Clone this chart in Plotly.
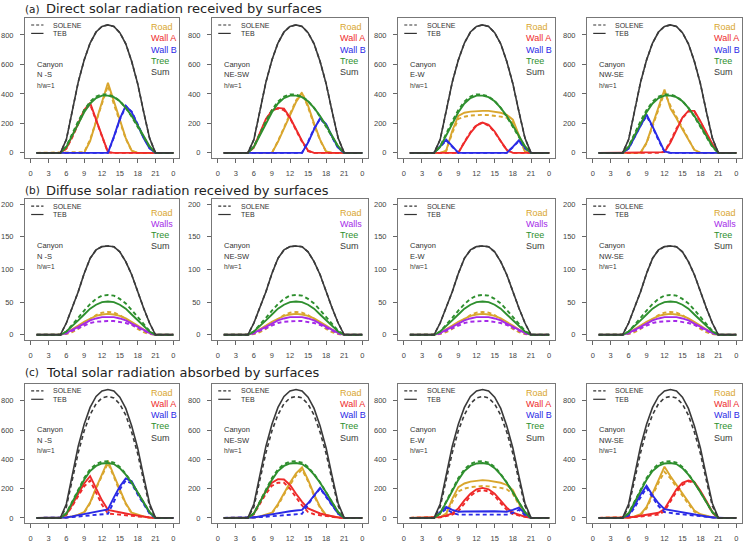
import plotly.graph_objects as go

HOURS = list(range(1, 25))
XTICKS = [0, 3, 6, 9, 12, 15, 18, 21, 24]
XTICKTEXT = ["0", "3", "6", "9", "12", "15", "18", "21", "0"]
YTICKS_A = [0, 200, 400, 600, 800]
YTICKS_B = [0, 50, 100, 150, 200]
ORIENT = ["N -S", "NE-SW", "E-W", "NW-SE"]

# ---------------- (a) Direct ----------------
A_SUM = [0,0,0,0,0,90,290,480,630,745,820,858,868,858,815,740,620,470,280,100,0,0,0,0]
A_TREE_TEB = [0,0,0,0,0,40,120,200,275,335,372,388,388,378,350,305,250,185,115,45,0,0,0,0]
A_TREE_SOL = [0,0,0,0,0,45,132,215,290,348,382,397,395,382,352,305,245,178,108,40,0,0,0,0]

A1_ROAD_TEB = [0,0,0,0,0,0,0,0,0,80,205,345,475,345,215,100,15,0,0,0,0,0,0,0]
A1_ROAD_SOL = [0,0,0,0,0,0,0,0,5,90,215,340,455,330,205,95,12,0,0,0,0,0,0,0]
A1_WALLA_TEB = [0,0,0,0,0,30,110,200,290,340,225,110,5,0,0,0,0,0,0,0,0,0,0,0]
A1_WALLA_SOL = [0,0,0,0,0,28,105,195,285,330,220,105,3,0,0,0,0,0,0,0,0,0,0,0]
A1_WALLB_TEB = [0,0,0,0,0,0,0,0,0,0,0,0,0,110,230,320,275,190,100,30,0,0,0,0]
A1_WALLB_SOL = [0,0,0,0,0,0,0,0,0,0,0,0,0,105,225,315,280,195,105,32,0,0,0,0]

A2_ROAD_TEB = [0,0,0,0,0,0,0,0,0,75,165,260,345,405,320,200,90,10,0,0,0,0,0,0]
A2_ROAD_SOL = [0,0,0,0,0,0,0,0,0,80,175,270,355,410,310,190,85,8,0,0,0,0,0,0]
A2_WALLA_TEB = [0,0,0,0,0,40,140,230,285,305,300,240,160,80,15,0,0,0,0,0,0,0,0,0]
A2_WALLA_SOL = [0,0,0,0,0,35,135,225,290,300,290,235,155,75,12,0,0,0,0,0,0,0,0,0]
A2_WALLB_TEB = [0,0,0,0,0,0,0,0,0,0,0,0,0,0,70,160,235,195,110,35,0,0,0,0]
A2_WALLB_SOL = [0,0,0,0,0,0,0,0,0,0,0,0,0,0,75,165,230,190,105,32,0,0,0,0]

A3_ROAD_TEB = [0,0,0,0,0,0,15,150,250,272,280,285,285,285,280,272,258,225,120,10,0,0,0,0]
A3_ROAD_SOL = [0,0,0,0,0,0,12,135,230,245,253,257,258,256,252,246,238,205,110,8,0,0,0,0]
A3_WALLA_TEB = [0,0,0,0,0,0,0,0,0,70,135,185,205,190,145,80,20,0,0,0,0,0,0,0]
A3_WALLA_SOL = [0,0,0,0,0,0,0,0,0,75,140,190,205,185,140,78,18,0,0,0,0,0,0,0]
A3_WALLB_TEB = [0,0,0,0,0,45,90,45,0,0,0,0,0,0,0,0,0,40,85,35,0,0,0,0]
A3_WALLB_SOL = [0,0,0,0,0,40,85,40,0,0,0,0,0,0,0,0,0,38,80,30,0,0,0,0]

A4_ROAD_TEB = [0,0,0,0,0,0,0,0,70,195,315,430,300,235,160,90,20,0,0,0,0,0,0,0]
A4_ROAD_SOL = [0,0,0,0,0,0,0,0,65,185,305,410,320,245,165,88,18,0,0,0,0,0,0,0]
A4_WALLA_TEB = [0,0,0,0,0,0,0,0,0,0,0,5,70,160,240,285,285,215,140,60,0,0,0,0]
A4_WALLA_SOL = [0,0,0,0,0,0,0,0,0,0,0,8,80,165,235,280,280,210,135,55,0,0,0,0]
A4_WALLB_TEB = [0,0,0,0,0,30,110,190,260,180,90,10,0,0,0,0,0,0,0,0,0,0,0,0]
A4_WALLB_SOL = [0,0,0,0,0,28,105,185,250,175,85,8,0,0,0,0,0,0,0,0,0,0,0,0]

# ---------------- (b) Diffuse ----------------
B_SUM = [0,0,0,0,0,18,41,66,94,117,130,135,136,135,127,112,92,66,41,18,0,0,0,0]
B_TREE_TEB = [0,0,0,0,0,5,13,22,31,40,46,50,51,50,46,40,31,22,13,5,0,0,0,0]
B_TREE_SOL = [0,0,0,0,0,5,15,26,37,47,55,60,61,60,55,48,38,27,16,6,0,0,0,0]
B_ROAD_TEB = [0,0,0,0,0,3,8,14,20,25,29,31,32,31,29,25,20,14,8,3,0,0,0,0]
B_ROAD_SOL = [0,0,0,0,0,1,4,9,16,24,30,34,35,34,30,24,16,9,4,1,0,0,0,0]
B_WALLS_TEB = [0,0,0,0,0,3,7,12,17,22,25,27,27,27,25,22,17,12,7,3,0,0,0,0]
B_WALLS_SOL = [0,0,0,0,0,2,6,11,15,18,20,21,21,21,20,18,15,11,6,2,0,0,0,0]

# ---------------- (c) Total absorbed ----------------
C_SUM_TEB = [0,0,0,0,0,95,300,490,640,755,830,868,877,868,825,748,628,478,285,100,0,0,0,0]
C_SUM_SOL = [0,0,0,0,0,75,265,445,595,705,780,820,830,820,778,702,585,440,255,82,0,0,0,0]
C_TREE_TEB = [0,0,0,0,0,30,105,185,260,320,355,372,375,368,340,295,240,175,105,40,0,0,0,0]
C_TREE_SOL = [0,0,0,0,0,32,110,195,272,332,368,385,387,378,348,300,242,175,103,38,0,0,0,0]

C1_ROAD_TEB = [0,0,0,0,0,3,10,22,40,105,205,300,390,290,190,100,35,20,10,3,0,0,0,0]
C1_ROAD_SOL = [0,0,0,0,0,2,8,18,35,100,200,290,375,280,180,95,30,15,7,2,0,0,0,0]
C1_WALLA_TEB = [0,0,0,0,0,25,90,165,235,285,200,120,55,45,38,30,22,15,8,3,0,0,0,0]
C1_WALLA_SOL = [0,0,0,0,0,20,80,150,215,255,170,90,30,25,22,18,14,10,6,2,0,0,0,0]
C1_WALLB_TEB = [0,0,0,0,0,3,10,18,26,34,42,50,58,140,215,270,250,170,100,35,0,0,0,0]
C1_WALLB_SOL = [0,0,0,0,0,2,6,10,14,18,22,25,28,110,195,255,235,160,95,30,0,0,0,0]

C2_ROAD_TEB = [0,0,0,0,0,3,10,20,35,95,170,240,305,345,260,160,75,20,10,3,0,0,0,0]
C2_ROAD_SOL = [0,0,0,0,0,2,8,16,30,85,160,230,290,330,250,150,68,16,7,2,0,0,0,0]
C2_WALLA_TEB = [0,0,0,0,0,30,110,185,240,265,262,225,165,110,65,45,30,20,10,3,0,0,0,0]
C2_WALLA_SOL = [0,0,0,0,0,25,95,165,220,240,240,200,140,85,40,25,18,12,6,2,0,0,0,0]
C2_WALLB_TEB = [0,0,0,0,0,3,10,18,25,32,39,45,50,55,100,155,205,150,90,30,0,0,0,0]
C2_WALLB_SOL = [0,0,0,0,0,2,5,8,11,14,17,20,23,28,90,150,200,145,85,28,0,0,0,0]

C3_ROAD_TEB = [0,0,0,0,0,5,30,130,210,235,248,255,258,255,250,240,225,190,100,20,0,0,0,0]
C3_ROAD_SOL = [0,0,0,0,0,4,25,110,180,200,210,215,218,215,212,205,195,165,90,15,0,0,0,0]
C3_WALLA_TEB = [0,0,0,0,0,5,15,30,65,120,165,195,205,195,165,120,70,35,20,8,0,0,0,0]
C3_WALLA_SOL = [0,0,0,0,0,4,12,22,45,100,150,180,190,180,150,100,55,25,15,6,0,0,0,0]
C3_WALLB_TEB = [0,0,0,0,0,40,75,55,42,44,45,46,46,46,45,44,42,55,70,30,0,0,0,0]
C3_WALLB_SOL = [0,0,0,0,0,30,60,35,22,22,22,23,23,23,22,22,22,35,55,20,0,0,0,0]

C4_ROAD_TEB = [0,0,0,0,0,3,10,25,75,170,260,350,285,225,165,105,50,25,12,4,0,0,0,0]
C4_ROAD_SOL = [0,0,0,0,0,2,8,20,65,155,240,315,270,210,150,95,42,20,9,3,0,0,0,0]
C4_WALLA_TEB = [0,0,0,0,0,3,8,14,20,26,35,60,130,195,240,255,245,185,115,40,0,0,0,0]
C4_WALLA_SOL = [0,0,0,0,0,2,5,9,13,17,22,45,115,180,225,250,240,180,110,35,0,0,0,0]
C4_WALLB_TEB = [0,0,0,0,0,20,85,160,220,155,100,60,52,45,38,30,23,16,9,3,0,0,0,0]
C4_WALLB_SOL = [0,0,0,0,0,15,70,140,205,140,80,40,32,28,24,20,16,12,7,2,0,0,0,0]

# ---------------- styles ----------------
ROAD_C = "#D9A62E"
WALLA_C = "#EE2A2A"
WALLB_C = "#2A2AE6"
TREE_C = "#2E8F2E"
SUM_C = "#3A3A3A"
WALLS_C = "#A52AE8"
DASH = "4px,3px"

W, H = 747, 542
COL_X = [(25, 179), (212, 368), (398, 555), (587, 742)]
ROW_Y = [(18, 158), (199, 340), (384, 523)]
FONT = "Liberation Sans"

# series per panel: (teb, sol, color)
PANELS = [
    [  # row a
        [(A1_ROAD_TEB, A1_ROAD_SOL, ROAD_C), (A1_WALLA_TEB, A1_WALLA_SOL, WALLA_C), (A1_WALLB_TEB, A1_WALLB_SOL, WALLB_C), (A_TREE_TEB, A_TREE_SOL, TREE_C), (A_SUM, A_SUM, SUM_C)],
        [(A2_ROAD_TEB, A2_ROAD_SOL, ROAD_C), (A2_WALLA_TEB, A2_WALLA_SOL, WALLA_C), (A2_WALLB_TEB, A2_WALLB_SOL, WALLB_C), (A_TREE_TEB, A_TREE_SOL, TREE_C), (A_SUM, A_SUM, SUM_C)],
        [(A3_ROAD_TEB, A3_ROAD_SOL, ROAD_C), (A3_WALLA_TEB, A3_WALLA_SOL, WALLA_C), (A3_WALLB_TEB, A3_WALLB_SOL, WALLB_C), (A_TREE_TEB, A_TREE_SOL, TREE_C), (A_SUM, A_SUM, SUM_C)],
        [(A4_ROAD_TEB, A4_ROAD_SOL, ROAD_C), (A4_WALLA_TEB, A4_WALLA_SOL, WALLA_C), (A4_WALLB_TEB, A4_WALLB_SOL, WALLB_C), (A_TREE_TEB, A_TREE_SOL, TREE_C), (A_SUM, A_SUM, SUM_C)],
    ],
    [  # row b
        [(B_ROAD_TEB, B_ROAD_SOL, ROAD_C), (B_WALLS_TEB, B_WALLS_SOL, WALLS_C), (B_TREE_TEB, B_TREE_SOL, TREE_C), (B_SUM, B_SUM, SUM_C)]
    ] * 4,
    [  # row c
        [(C1_ROAD_TEB, C1_ROAD_SOL, ROAD_C), (C1_WALLA_TEB, C1_WALLA_SOL, WALLA_C), (C1_WALLB_TEB, C1_WALLB_SOL, WALLB_C), (C_TREE_TEB, C_TREE_SOL, TREE_C), (C_SUM_TEB, C_SUM_SOL, SUM_C)],
        [(C2_ROAD_TEB, C2_ROAD_SOL, ROAD_C), (C2_WALLA_TEB, C2_WALLA_SOL, WALLA_C), (C2_WALLB_TEB, C2_WALLB_SOL, WALLB_C), (C_TREE_TEB, C_TREE_SOL, TREE_C), (C_SUM_TEB, C_SUM_SOL, SUM_C)],
        [(C3_ROAD_TEB, C3_ROAD_SOL, ROAD_C), (C3_WALLA_TEB, C3_WALLA_SOL, WALLA_C), (C3_WALLB_TEB, C3_WALLB_SOL, WALLB_C), (C_TREE_TEB, C_TREE_SOL, TREE_C), (C_SUM_TEB, C_SUM_SOL, SUM_C)],
        [(C4_ROAD_TEB, C4_ROAD_SOL, ROAD_C), (C4_WALLA_TEB, C4_WALLA_SOL, WALLA_C), (C4_WALLB_TEB, C4_WALLB_SOL, WALLB_C), (C_TREE_TEB, C_TREE_SOL, TREE_C), (C_SUM_TEB, C_SUM_SOL, SUM_C)],
    ],
]

LABELS_5 = [("Road", ROAD_C), ("Wall A", WALLA_C), ("Wall B", WALLB_C), ("Tree", TREE_C), ("Sum", SUM_C)]
LABELS_B = [("Road", ROAD_C), ("Walls", WALLS_C), ("Tree", TREE_C), ("Sum", SUM_C)]
ROW_TITLES = [("(a)", "Direct solar radiation received by surfaces", 9),
              ("(b)", "Diffuse solar radiation received by surfaces", 190),
              ("(c)", "Total solar radiation absorbed by surfaces", 372)]

fig = go.Figure()
layout = dict(width=W, height=H, margin=dict(l=0, r=0, t=0, b=0),
              paper_bgcolor="white", plot_bgcolor="white", showlegend=False)
annotations = []
shapes = []

for r in range(3):
    for c in range(4):
        k = r * 4 + c + 1
        xs = "" if k == 1 else str(k)
        x0, x1 = COL_X[c]
        y0, y1 = ROW_Y[r]
        yr = [-8, 208] if r == 1 else [-35, 915]
        yt = YTICKS_B if r == 1 else YTICKS_A
        layout["xaxis" + xs] = dict(domain=[x0 / W, x1 / W], anchor="y" + xs, range=[-0.96, 24.96],
                                    tickvals=XTICKS, ticktext=XTICKTEXT, ticks="outside", ticklen=4,
                                    tickcolor="#666", showline=True, linecolor="#777", linewidth=1,
                                    mirror=True, showgrid=False, zeroline=False,
                                    tickfont=dict(family=FONT, size=7.5, color="#444"),
                                    ticklabelstandoff=4)
        layout["yaxis" + xs] = dict(domain=[1 - y1 / H, 1 - y0 / H], anchor="x" + xs, range=yr,
                                    tickvals=yt, ticks="outside", ticklen=4, tickcolor="#666",
                                    showline=True, linecolor="#777", linewidth=1, mirror=True,
                                    showgrid=False, zeroline=False,
                                    tickfont=dict(family=FONT, size=7.5, color="#444"),
                                    ticklabelstandoff=5)
        for teb, sol, col in PANELS[r][c]:
            lw = 1.6 if col == SUM_C else 1.9
            fig.add_trace(go.Scatter(x=HOURS, y=sol, mode="lines", xaxis="x" + xs, yaxis="y" + xs,
                                     line=dict(color=col, width=lw, dash=DASH), hoverinfo="skip"))
            fig.add_trace(go.Scatter(x=HOURS, y=teb, mode="lines", xaxis="x" + xs, yaxis="y" + xs,
                                     line=dict(color=col, width=lw), hoverinfo="skip"))
        xd = "x" + xs + " domain"
        yd = "y" + xs + " domain"
        # legend samples
        ly1, ly2 = 0.95, 0.89
        shapes.append(dict(type="line", xref=xd, yref=yd, x0=0.04, x1=0.12, y0=ly1, y1=ly1,
                           line=dict(color="#333", width=1.2, dash="3px,2px")))
        shapes.append(dict(type="line", xref=xd, yref=yd, x0=0.04, x1=0.12, y0=ly2, y1=ly2,
                           line=dict(color="#333", width=1.2)))
        for txt, yy in (("SOLENE", ly1), ("TEB", ly2)):
            annotations.append(dict(text=txt, xref=xd, yref=yd, x=0.17, y=yy, xanchor="left",
                                    yanchor="middle", showarrow=False,
                                    font=dict(family=FONT, size=7, color="#333")))
        # canyon info
        for txt, yy, fs in (("Canyon", 0.67, 7.5), (ORIENT[c], 0.595, 7.5), ("h/w=1", 0.52, 6.5)):
            annotations.append(dict(text=txt, xref=xd, yref=yd, x=0.065, y=yy, xanchor="left",
                                    yanchor="middle", showarrow=False,
                                    font=dict(family=FONT, size=fs, color="#333")))
        # coloured labels
        if r == 1:
            labs, ys = LABELS_B, [0.90, 0.825, 0.745, 0.665]
        else:
            labs, ys = LABELS_5, [0.935, 0.855, 0.775, 0.695, 0.615]
        for (txt, col), yy in zip(labs, ys):
            annotations.append(dict(text=txt, xref=xd, yref=yd, x=0.805, y=yy, xanchor="left",
                                    yanchor="middle", showarrow=False,
                                    font=dict(family=FONT, size=9, color=col)))

for tag, title, yp in ROW_TITLES:
    annotations.append(dict(text=tag, xref="paper", yref="paper", x=23 / W, y=1 - yp / H,
                            xanchor="left", yanchor="middle", showarrow=False,
                            font=dict(family="DejaVu Sans", size=10.5, color="#222")))
    annotations.append(dict(text=title, xref="paper", yref="paper", x=44 / W, y=1 - yp / H,
                            xanchor="left", yanchor="middle", showarrow=False,
                            font=dict(family="DejaVu Sans", size=13, color="#222")))

layout["annotations"] = annotations
layout["shapes"] = shapes
fig.update_layout(**layout)
fig.write_html("out.html")
